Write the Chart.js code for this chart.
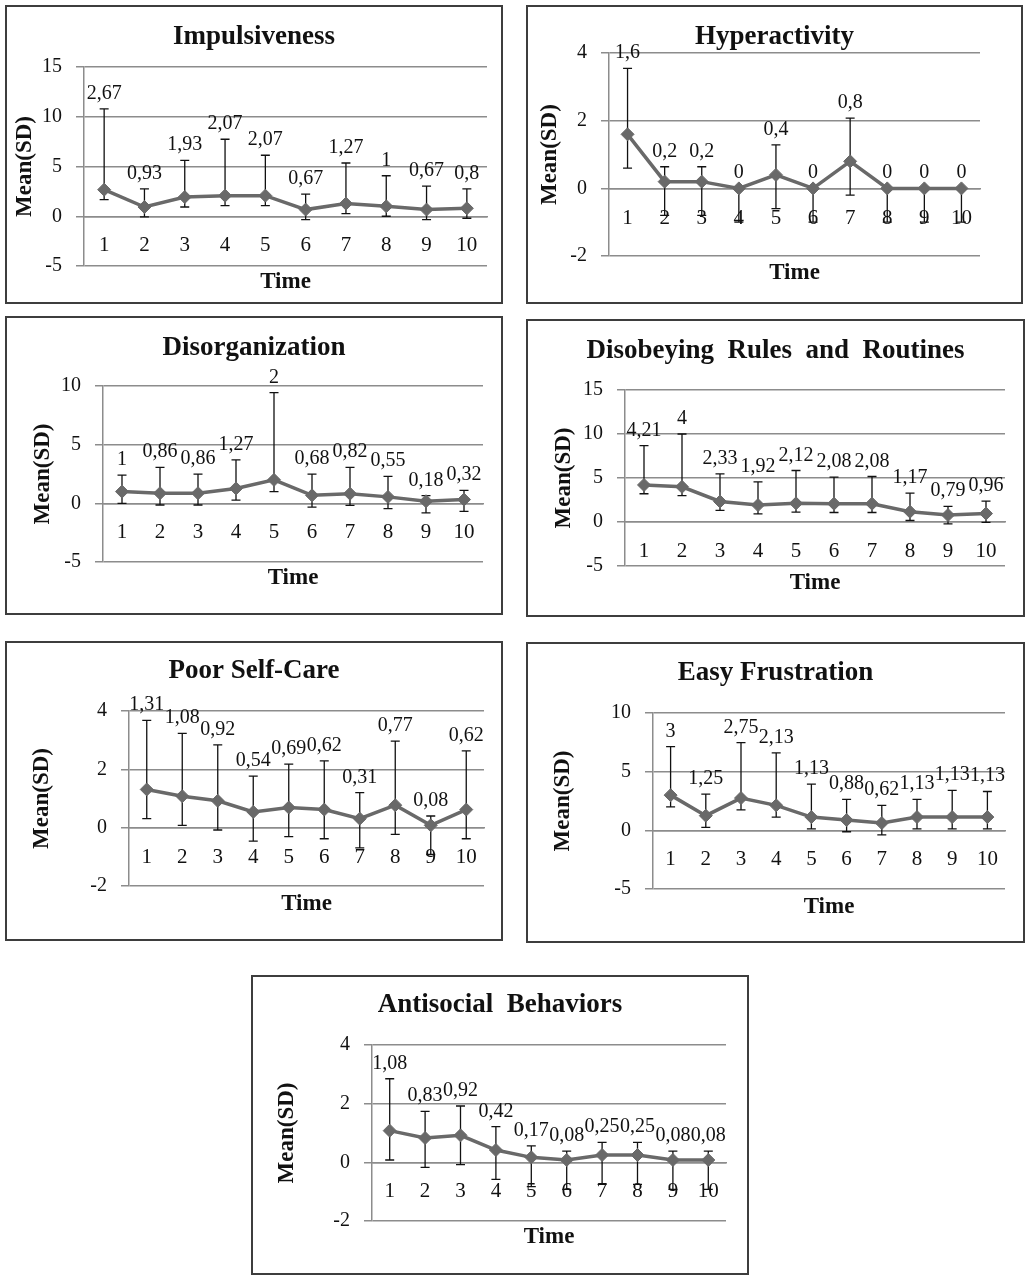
<!DOCTYPE html>
<html>
<head>
<meta charset="utf-8">
<title>Mean (SD) by time</title>
<script src="https://cdn.jsdelivr.net/npm/chart.js@4.4.1/dist/chart.umd.min.js"></script>
<style>
  body { margin: 0; background: #fff; }
  #page { position: relative; width: 1031px; height: 1282px; }
  .panel { position: absolute; border: 2px solid #3d3d3d; box-sizing: border-box; background: #fff; }
  .panel canvas { display: block; }
</style>
</head>
<body>
<div id="page"></div>
<script>
// x axis categories
const timePoints = ['1', '2', '3', '4', '5', '6', '7', '8', '9', '10'];

// means and upper SD bars
const impulsivenessMean = [2.67, 0.93, 1.93, 2.07, 2.07, 0.67, 1.27, 1, 0.67, 0.8];
const impulsivenessSd = [8.13, 1.83, 3.69, 5.67, 4.06, 1.55, 4.08, 3.07, 2.36, 1.96];
const impulsivenessTicks = [-5, 0, 5, 10, 15];

const hyperactivityMean = [1.6, 0.2, 0.2, 0, 0.4, 0, 0.8, 0, 0, 0];
const hyperactivitySd = [1.95, 0.44, 0.44, 0, 0.89, 0, 1.28, 0, 0, 0];
const hyperactivityTicks = [-2, 0, 2, 4];

const disorganizationMean = [1, 0.86, 0.86, 1.27, 2, 0.68, 0.82, 0.55, 0.18, 0.32];
const disorganizationSd = [1.41, 2.2, 1.63, 2.44, 7.43, 1.81, 2.24, 1.74, 0.47, 0.78];
const disorganizationTicks = [-5, 0, 5, 10];

const disobeyingMean = [4.21, 4, 2.33, 1.92, 2.12, 2.08, 2.08, 1.17, 0.79, 0.96];
const disobeyingSd = [4.47, 6.0, 3.14, 2.65, 3.73, 3.01, 3.09, 2.11, 0.98, 1.42];
const disobeyingTicks = [-5, 0, 5, 10, 15];

const selfCareMean = [1.31, 1.08, 0.92, 0.54, 0.69, 0.62, 0.31, 0.77, 0.08, 0.62];
const selfCareSd = [2.37, 2.15, 1.92, 1.23, 1.49, 1.67, 0.89, 2.2, 0.32, 2.01];
const selfCareTicks = [-2, 0, 2, 4];

const frustrationMean = [3, 1.25, 2.75, 2.13, 1.13, 0.88, 0.62, 1.13, 1.13, 1.13];
const frustrationSd = [4.14, 1.84, 4.73, 4.47, 2.81, 1.75, 1.5, 1.5, 2.27, 2.18];
const frustrationTicks = [-5, 0, 5, 10];

const antisocialMean = [1.08, 0.83, 0.92, 0.42, 0.17, 0.08, 0.25, 0.25, 0.08, 0.08];
const antisocialSd = [1.77, 0.91, 1.0, 0.8, 0.39, 0.3, 0.43, 0.43, 0.3, 0.3];
const antisocialTicks = [-2, 0, 2, 4];

// lower bar is the same fixed length on every point
const lowerBar = 1;

// layout: box = [x, y, w, h], plot = [left, top, right, bottom] in page px
const panels = [
  { title: 'Impulsiveness', mean: impulsivenessMean, sd: impulsivenessSd, ticks: impulsivenessTicks,
    box: [5, 5, 498, 299], plot: [84, 67, 487, 266], titleY: 37, yTitleX: 25, timeY: 282 },
  { title: 'Hyperactivity', mean: hyperactivityMean, sd: hyperactivitySd, ticks: hyperactivityTicks,
    box: [526, 5, 497, 299], plot: [609, 53, 980, 256], titleY: 37, yTitleX: 550, timeY: 273 },
  { title: 'Disorganization', mean: disorganizationMean, sd: disorganizationSd, ticks: disorganizationTicks,
    box: [5, 316, 498, 299], plot: [103, 386, 483, 562], titleY: 348, yTitleX: 43, timeY: 578 },
  { title: 'Disobeying  Rules  and  Routines', mean: disobeyingMean, sd: disobeyingSd, ticks: disobeyingTicks,
    box: [526, 319, 499, 298], plot: [625, 390, 1005, 566], titleY: 351, yTitleX: 564, timeY: 583 },
  { title: 'Poor Self-Care', mean: selfCareMean, sd: selfCareSd, ticks: selfCareTicks,
    box: [5, 641, 498, 300], plot: [129, 711, 484, 886], titleY: 671, yTitleX: 42, timeY: 904 },
  { title: 'Easy Frustration', mean: frustrationMean, sd: frustrationSd, ticks: frustrationTicks,
    box: [526, 642, 499, 301], plot: [653, 713, 1005, 889], titleY: 673, yTitleX: 563, timeY: 907 },
  { title: 'Antisocial  Behaviors', mean: antisocialMean, sd: antisocialSd, ticks: antisocialTicks,
    box: [251, 975, 498, 300], plot: [372, 1045, 726, 1221], titleY: 1005, yTitleX: 287, timeY: 1237 },
];

Chart.defaults.font.family = "'Times New Roman', 'Liberation Serif', serif";
Chart.defaults.color = '#111';

const gridGray = '#8c8c8c';
const lineGray = '#696969';
const titleSize = 27;
const axisTitleSize = 23;

// SD bars under the markers
const errorBars = {
  id: 'errorBars',
  beforeDatasetsDraw(chart, args, opts) {
    const { ctx, scales: { x, y } } = chart;
    const data = chart.data.datasets[0].data;
    ctx.save();
    ctx.strokeStyle = '#111';
    ctx.lineWidth = 1.3;
    data.forEach((m, i) => {
      const px = x.getPixelForValue(i);
      const top = y.getPixelForValue(m + opts.sd[i]);
      const bot = y.getPixelForValue(m - lowerBar);
      ctx.beginPath();
      ctx.moveTo(px, top); ctx.lineTo(px, bot);
      ctx.moveTo(px - 4.5, top); ctx.lineTo(px + 4.5, top);
      ctx.moveTo(px - 4.5, bot); ctx.lineTo(px + 4.5, bot);
      ctx.stroke();
    });
    ctx.restore();
  },
  // mean labels sit above the upper bar
  afterDatasetsDraw(chart, args, opts) {
    const { ctx, scales: { x, y } } = chart;
    const data = chart.data.datasets[0].data;
    ctx.save();
    ctx.font = "20px 'Times New Roman', 'Liberation Serif', serif";
    ctx.fillStyle = '#111';
    ctx.textAlign = 'center';
    ctx.textBaseline = 'alphabetic';
    data.forEach((m, i) => {
      const px = x.getPixelForValue(i);
      const top = y.getPixelForValue(m + opts.sd[i]);
      ctx.fillText(String(m).replace('.', ','), px, top - 10);
    });
    ctx.restore();
  }
};

const page = document.getElementById('page');

panels.forEach(p => {
  const [bx, by, bw, bh] = p.box;
  const [pl, pt, pr, pb] = p.plot;
  const ox = bx + 2, oy = by + 2;
  const cw = bw - 4, ch = bh - 4;

  const div = document.createElement('div');
  div.className = 'panel';
  div.style.left = bx + 'px';
  div.style.top = by + 'px';
  div.style.width = bw + 'px';
  div.style.height = bh + 'px';
  const canvas = document.createElement('canvas');
  canvas.width = cw;
  canvas.height = ch;
  div.appendChild(canvas);
  page.appendChild(div);

  const titleLH = titleSize * 1.2;
  const titlePadTop = p.titleY - oy - titleLH / 2;
  const titlePadBottom = Math.max(0, pt - oy - titleLH - titlePadTop);
  const subLH = axisTitleSize * 1.2;
  const subPadTop = p.timeY - pb - subLH / 2;
  const subPadBottom = oy + ch - pb - subLH - subPadTop;
  const yTitlePad = p.yTitleX - ox - subLH / 2;
  const yWidth = pl - ox;
  const rightGap = ox + cw - pr;

  new Chart(canvas, {
    type: 'line',
    data: {
      labels: timePoints,
      datasets: [{
        data: p.mean,
        borderColor: lineGray,
        borderWidth: 3.5,
        tension: 0,
        pointStyle: 'rectRot',
        pointRadius: 6.5,
        pointBackgroundColor: lineGray,
        pointBorderColor: lineGray,
        pointBorderWidth: 1,
      }],
    },
    options: {
      responsive: false,
      animation: false,
      layout: { padding: 0 },
      plugins: {
        legend: { display: false },
        tooltip: { enabled: false },
        title: {
          display: true,
          text: p.title,
          font: { size: titleSize, weight: 'bold' },
          color: '#111',
          padding: { top: titlePadTop, bottom: titlePadBottom },
        },
        subtitle: {
          display: true,
          position: 'bottom',
          fullSize: false,
          text: 'Time',
          font: { size: axisTitleSize, weight: 'bold' },
          color: '#111',
          padding: { top: subPadTop, bottom: subPadBottom },
        },
        errorBars: { sd: p.sd },
      },
      scales: {
        x: {
          position: { y: 0 },
          offset: true,
          grid: { display: false, drawTicks: false },
          border: { display: true, color: gridGray, width: 1.5 },
          ticks: { font: { size: 21 }, color: '#111', padding: 17, maxRotation: 0, autoSkip: false },
        },
        y: {
          position: 'left',
          min: p.ticks[0],
          max: p.ticks[p.ticks.length - 1],
          afterFit: s => { s.width = yWidth; },
          ticks: { stepSize: p.ticks[1] - p.ticks[0], font: { size: 20 }, color: '#111', padding: 14 },
          grid: { color: gridGray, lineWidth: 1.5, tickLength: 8 },
          border: { display: true, color: gridGray, width: 1.5 },
          title: {
            display: true,
            text: 'Mean(SD)',
            font: { size: axisTitleSize, weight: 'bold' },
            color: '#111',
            padding: { top: yTitlePad, bottom: 0 },
          },
        },
        // empty right-hand axis that only holds the gap after the plot
        spacer: {
          type: 'linear',
          position: 'right',
          afterFit: s => { s.width = rightGap; },
          ticks: { display: false },
          grid: { display: false, drawTicks: false },
          border: { display: false },
        },
      },
    },
    plugins: [errorBars],
  });
});
</script>
</body>
</html>
